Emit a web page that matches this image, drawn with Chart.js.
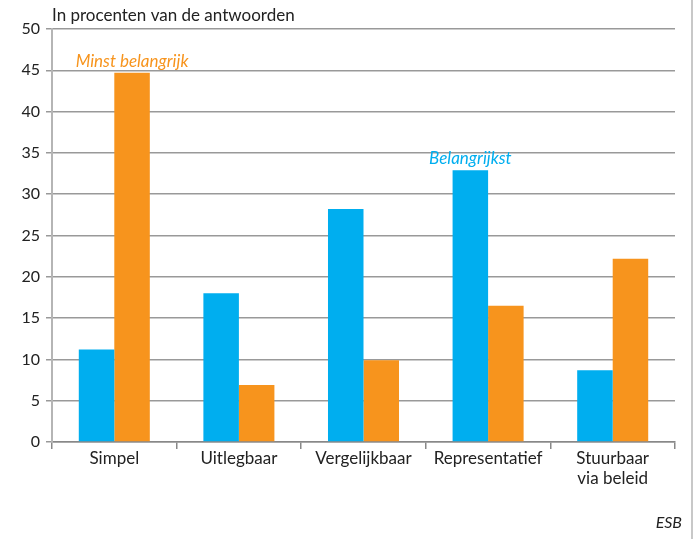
<!DOCTYPE html>
<html>
<head>
<meta charset="utf-8">
<script src="https://cdn.jsdelivr.net/npm/chart.js@4/dist/chart.umd.min.js"></script>
<style>
  html, body { margin: 0; padding: 0; background: #fff; }
  #wrap { width: 698px; height: 539px; }
</style>
</head>
<body>
<div id="wrap"><canvas id="esb" width="698" height="539"></canvas></div>
<script>
const categories = ['Simpel', 'Uitlegbaar', 'Vergelijkbaar', 'Representatief', ['Stuurbaar', 'via beleid']];
const belangrijkst = [11.2, 18.0, 28.2, 32.9, 8.7];
const minstBelangrijk = [44.7, 6.9, 9.9, 16.5, 22.2];
const yTicks = [0, 5, 10, 15, 20, 25, 30, 35, 40, 45, 50];

const BLUE = '#00AEEF';
const ORANGE = '#F7941D';
const FONT = 'Lato, "Open Sans", sans-serif';

// titel, annotaties en bronvermelding
const extras = {
  id: 'extras',
  afterDatasetsDraw(chart) {
    const ctx = chart.ctx;
    ctx.save();
    ctx.textAlign = 'center';
    ctx.textBaseline = 'bottom';
    ctx.font = 'italic 17px ' + FONT;

    let bar = chart.getDatasetMeta(1).data[0];
    ctx.fillStyle = ORANGE;
    ctx.fillText('Minst belangrijk', bar.x, bar.y - 3);

    bar = chart.getDatasetMeta(0).data[3];
    ctx.fillStyle = BLUE;
    ctx.fillText('Belangrijkst', bar.x, bar.y - 3);
    ctx.restore();
  },
  afterDraw(chart) {
    const ctx = chart.ctx;
    ctx.save();
    ctx.fillStyle = '#222';
    ctx.font = '17px ' + FONT;
    ctx.textAlign = 'left';
    ctx.textBaseline = 'middle';
    ctx.fillText('In procenten van de antwoorden', chart.chartArea.left, 16);

    ctx.font = 'italic 16px ' + FONT;
    ctx.textAlign = 'right';
    ctx.fillText('ESB', 682, 523);

    ctx.fillStyle = '#c8c8c8';
    ctx.fillRect(691, 0, 2, 539);
    ctx.restore();
  }
};

new Chart(document.getElementById('esb'), {
  type: 'bar',
  data: {
    labels: categories,
    datasets: [
      { label: 'Belangrijkst', data: belangrijkst, backgroundColor: BLUE },
      { label: 'Minst belangrijk', data: minstBelangrijk, backgroundColor: ORANGE }
    ]
  },
  options: {
    responsive: false,
    animation: false,
    devicePixelRatio: 1,
    layout: { padding: { left: 0, right: 23, top: 29, bottom: 0 } },
    datasets: { bar: { barPercentage: 1, categoryPercentage: 0.57 } },
    plugins: { legend: { display: false }, tooltip: { enabled: false } },
    scales: {
      x: {
        afterFit(scale) { scale.height = 97; },
        grid: {
          offset: true,
          color: (c) => c.index === categories.length ? '#999' : 'rgba(0,0,0,0)',
          tickColor: '#888',
          tickLength: 7,
          lineWidth: 1.5
        },
        border: { color: '#888', width: 1.5 },
        ticks: { color: '#222', padding: 0, font: { family: FONT, size: 17, lineHeight: 1.15 } }
      },
      y: {
        min: 0,
        max: 50,
        afterFit(scale) { scale.width = 52; },
        afterBuildTicks(scale) { scale.ticks = yTicks.map(v => ({ value: v })); },
        grid: { color: '#999', tickColor: '#999', tickLength: 6, lineWidth: 1.5 },
        border: { color: '#b5b5b5', width: 2 },
        ticks: { color: '#222', padding: 6, font: { family: FONT, size: 16 } }
      }
    }
  },
  plugins: [extras]
});
</script>
</body>
</html>
